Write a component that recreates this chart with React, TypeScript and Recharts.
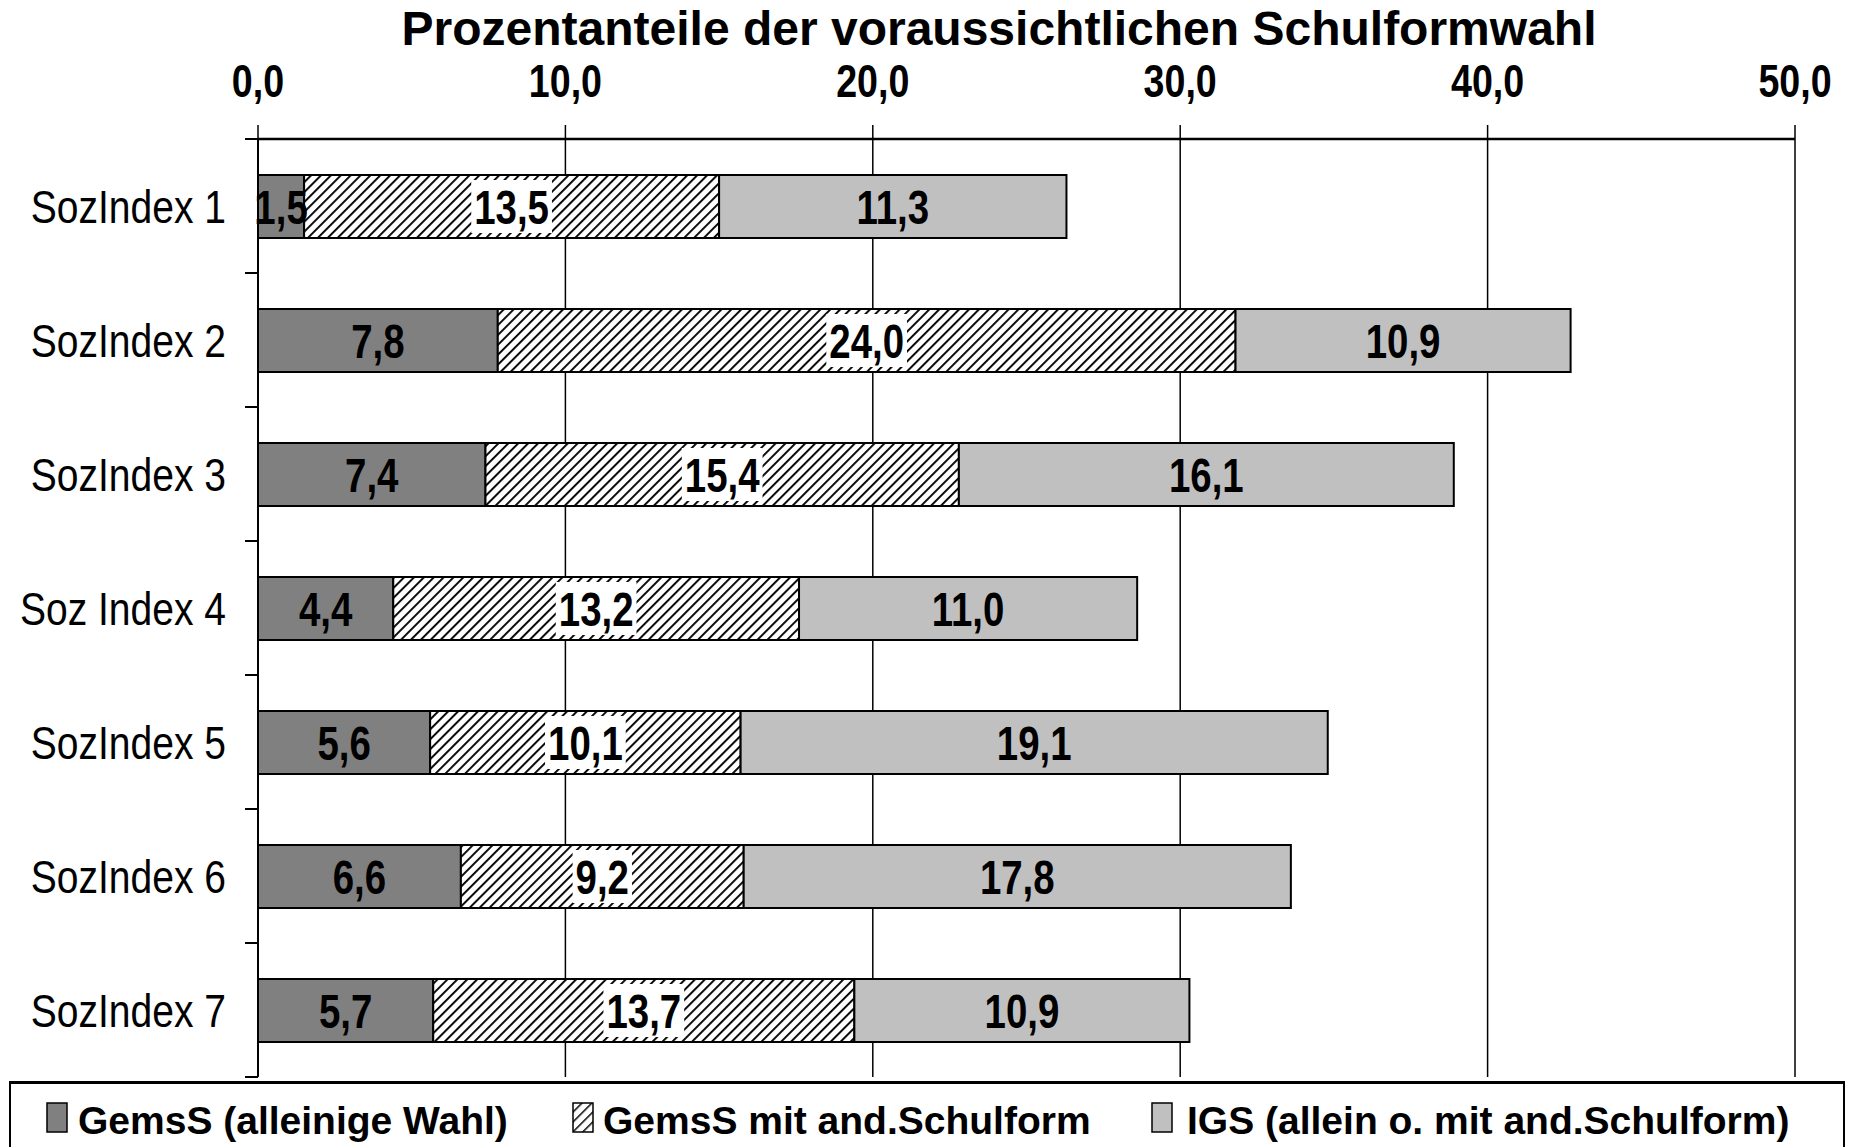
import { BarChart, Bar, XAxis, YAxis, CartesianGrid, LabelList } from 'recharts';

const categories = ['SozIndex 1', 'SozIndex 2', 'SozIndex 3', 'Soz Index 4', 'SozIndex 5', 'SozIndex 6', 'SozIndex 7'];
const gemsAllein = [1.5, 7.8, 7.4, 4.4, 5.6, 6.6, 5.7];
const gemsMit = [13.5, 24.0, 15.4, 13.2, 10.1, 9.2, 13.7];
const igs = [11.3, 10.9, 16.1, 11.0, 19.1, 17.8, 10.9];
const xTicks = [0, 10, 20, 30, 40, 50];
const seriesNames = ['GemsS (alleinige Wahl)', 'GemsS mit and.Schulform', 'IGS (allein o. mit and.Schulform)'];
const title = 'Prozentanteile der voraussichtlichen Schulformwahl';

const data = categories.map((name, i) => ({ name, a: gemsAllein[i], b: gemsMit[i], c: igs[i] }));

const W = 1852;
const H = 1147;
const PLOT_LEFT = 258;
const PLOT_RIGHT = 1795;
const PLOT_TOP = 139;
const PLOT_BOTTOM = 1077;
const BAND = (PLOT_BOTTOM - PLOT_TOP) / categories.length;
const FONT = '"Liberation Sans", Arial, sans-serif';
// the original uses a narrow face for axes and labels; squeeze the regular one
const SQUEEZE = 0.8;
const LABEL_SIZE = 48;

const fmt = (v: number) => v.toFixed(1).replace('.', ',');

// rough Arial-bold width of a number label (after squeeze)
const textWidth = (s: string, fs: number) =>
  s.split('').reduce((w, ch) => w + (ch === ',' ? 0.278 : 0.556) * fs, 0) * SQUEEZE;

const Narrow = ({ x, y, size, bold, anchor, dy, sx = SQUEEZE, children }: any) => (
  <text
    transform={`translate(${x},${y}) scale(${sx},1)`}
    dy={dy}
    textAnchor={anchor}
    fontSize={size}
    fontWeight={bold ? 'bold' : 'normal'}
    fontFamily={FONT}
    fill="#000"
  >
    {children}
  </text>
);

const XTick = (props: any) => {
  const { x, y, payload } = props;
  return (
    <Narrow x={x} y={y + 2} size={47} bold anchor="middle" dy={0}>
      {fmt(payload.value)}
    </Narrow>
  );
};

const YTick = (props: any) => {
  const { y, payload, index } = props;
  const half = BAND / 2;
  return (
    <g>
      <Narrow x={PLOT_LEFT - 32} y={y} size={47} sx={0.83} anchor="end" dy="0.36em">
        {payload.value}
      </Narrow>
      <line x1={PLOT_LEFT - 13} x2={PLOT_LEFT} y1={y - half} y2={y - half} stroke="#000" strokeWidth={2} />
      {index === categories.length - 1 && (
        <line x1={PLOT_LEFT - 13} x2={PLOT_LEFT} y1={y + half} y2={y + half} stroke="#000" strokeWidth={2} />
      )}
    </g>
  );
};

const plainLabel = (props: any) => {
  const { x, y, width, height, value } = props;
  return (
    <Narrow x={x + width / 2} y={y + height / 2} size={LABEL_SIZE} bold anchor="middle" dy="0.36em">
      {fmt(value)}
    </Narrow>
  );
};

const boxedLabel = (props: any) => {
  const { x, y, width, height, value } = props;
  const s = fmt(value);
  const tw = textWidth(s, LABEL_SIZE) + 6;
  const cx = x + width / 2;
  return (
    <g>
      <rect x={cx - tw / 2} y={y + 5} width={tw} height={height - 10} fill="#fff" />
      <Narrow x={cx} y={y + height / 2} size={LABEL_SIZE} bold anchor="middle" dy="0.36em">
        {s}
      </Narrow>
    </g>
  );
};

const swatch = (fill: string, hatched: boolean) => (
  <svg width={22} height={31} style={{ display: 'block' }}>
    <defs>
      <pattern id="hatchSmall" patternUnits="userSpaceOnUse" width={7} height={7} patternTransform="rotate(45)">
        <rect width={7} height={7} fill="#fff" />
        <line x1={0} y1={0} x2={0} y2={7} stroke="#000" strokeWidth={3} />
      </pattern>
    </defs>
    <rect x={1} y={1} width={20} height={29} fill={hatched ? 'url(#hatchSmall)' : fill} stroke="#000" strokeWidth={1.5} />
  </svg>
);

export default function App() {
  const legendItems = [
    { name: seriesNames[0], fill: '#808080', hatched: false, sw: 46, tx: 78 },
    { name: seriesNames[1], fill: '#fff', hatched: true, sw: 572, tx: 603 },
    { name: seriesNames[2], fill: '#c0c0c0', hatched: false, sw: 1151, tx: 1187 },
  ];

  return (
    <div
      style={{
        position: 'absolute',
        left: 0,
        top: 0,
        width: W,
        height: H,
        overflow: 'hidden',
        background: '#fff',
        fontFamily: FONT,
      }}
    >
      {/* title */}
      <div
        style={{
          position: 'absolute',
          left: 0,
          width: 1998,
          top: 5,
          textAlign: 'center',
          fontSize: 48,
          lineHeight: 1,
          fontWeight: 'bold',
          color: '#000',
          whiteSpace: 'nowrap',
        }}
      >
        {title}
      </div>

      <BarChart
        width={W}
        height={H}
        data={data}
        layout="vertical"
        margin={{ top: PLOT_TOP - 60, right: W - PLOT_RIGHT, bottom: H - PLOT_BOTTOM, left: PLOT_LEFT - 250 }}
        barSize={63}
      >
        <defs>
          <pattern id="hatch" patternUnits="userSpaceOnUse" width={7} height={7} patternTransform="rotate(45)">
            <rect width={7} height={7} fill="#fff" />
            <line x1={0} y1={0} x2={0} y2={7} stroke="#000" strokeWidth={3.8} />
          </pattern>
        </defs>
        <CartesianGrid horizontal={false} stroke="#000" strokeWidth={1.5} />
        <XAxis
          type="number"
          orientation="top"
          domain={[0, 50]}
          ticks={xTicks}
          height={60}
          tickSize={14}
          tickMargin={30}
          interval={0}
          axisLine={{ stroke: '#000', strokeWidth: 2.5 }}
          tickLine={{ stroke: '#000', strokeWidth: 1.5 }}
          tick={<XTick />}
        />
        <YAxis
          type="category"
          dataKey="name"
          width={250}
          tickLine={false}
          axisLine={{ stroke: '#000', strokeWidth: 2 }}
          tick={<YTick />}
          interval={0}
        />
        <Bar dataKey="a" stackId="s" fill="#808080" stroke="#000" strokeWidth={2} isAnimationActive={false}>
          <LabelList dataKey="a" content={plainLabel} />
        </Bar>
        <Bar dataKey="b" stackId="s" fill="url(#hatch)" stroke="#000" strokeWidth={2} isAnimationActive={false}>
          <LabelList dataKey="b" content={boxedLabel} />
        </Bar>
        <Bar dataKey="c" stackId="s" fill="#c0c0c0" stroke="#000" strokeWidth={2} isAnimationActive={false}>
          <LabelList dataKey="c" content={plainLabel} />
        </Bar>
      </BarChart>

      {/* legend */}
      <div
        style={{
          position: 'absolute',
          left: 9,
          top: 1081,
          width: 1832,
          height: 120,
          borderTop: '3px solid #000',
          borderLeft: '2px solid #000',
          borderRight: '2px solid #000',
        }}
      />
      {legendItems.map((it) => (
        <div key={it.name}>
          <div style={{ position: 'absolute', left: it.sw, top: 1102 }}>{swatch(it.fill, it.hatched)}</div>
          <div
            style={{
              position: 'absolute',
              left: it.tx,
              top: 1101,
              fontSize: 39,
              lineHeight: 1,
              fontWeight: 'bold',
              color: '#000',
              whiteSpace: 'nowrap',
            }}
          >
            {it.name}
          </div>
        </div>
      ))}
    </div>
  );
}
